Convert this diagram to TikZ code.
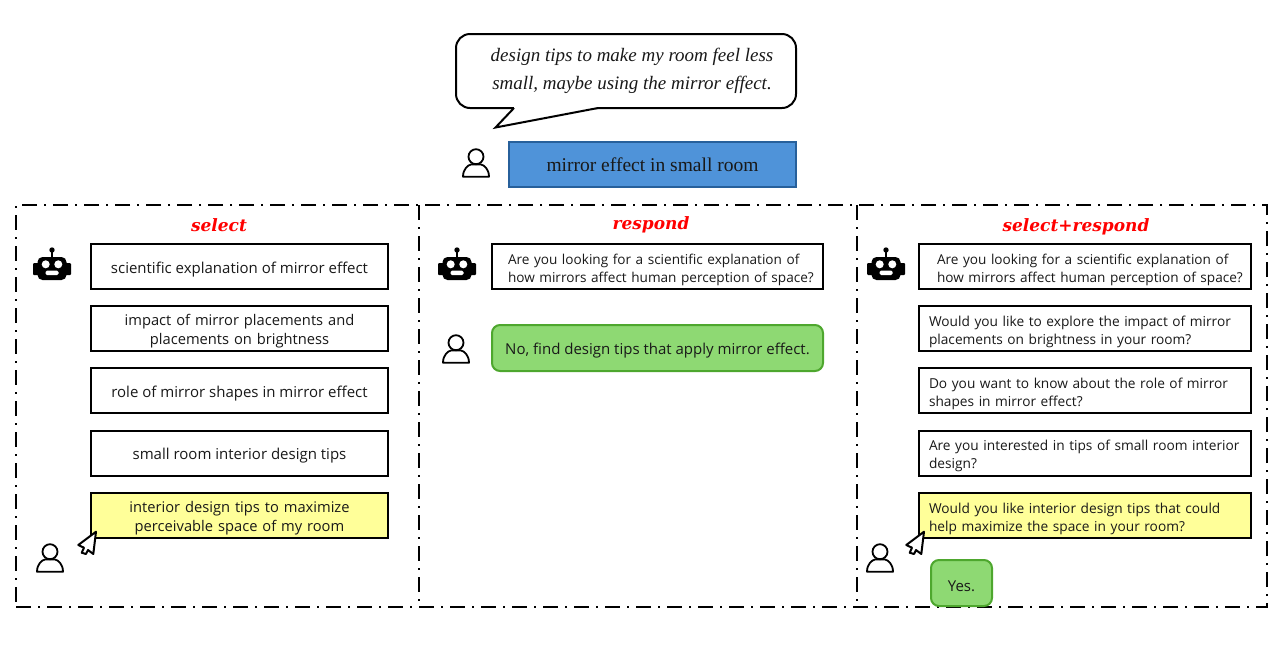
\documentclass[tikz,border=0pt]{standalone}
\usepackage{fontspec}
\setmainfont{Open Sans}
\newfontfamily\serifface{Liberation Serif}
\newfontfamily\headface{DejaVu Serif}
\usetikzlibrary{positioning}

\definecolor{boxblue}{HTML}{4F93D9}
\definecolor{boxblueline}{HTML}{27609B}
\definecolor{replygreen}{HTML}{8ED973}
\definecolor{replyline}{HTML}{4EA72E}
\definecolor{pickyellow}{HTML}{FFFF99}

\tikzset{
  pics/personicon/.style={code={
    \draw[line width=1.8pt] (0,-6.3) circle (7.5);
    \draw[line width=1.8pt, line join=round] (-13,13.7) .. controls (-13,6) and (-8,2) .. (-5,1.5) -- (5,1.5) .. controls (8,2) and (13,6) .. (13,13.7) -- cycle;
  }},
  pics/roboticon/.style={code={
    \fill[rounded corners=5pt] (-14.5,-8) rectangle (14.5,15);
    \fill[rounded corners=1pt] (-19,-2) rectangle (-13,10);
    \fill[rounded corners=1pt] (13,-2) rectangle (19,10);
    \fill (-1,-15) rectangle (1,-8);
    \fill (0,-15) circle (2.7);
    \fill[white] (-6.3,-0.7) circle (4);
    \fill[white] (6.3,-0.7) circle (4);
    \fill[white, rounded corners=1.5pt] (-6.5,5.5) rectangle (6.5,10);
  }},
  pics/cursoricon/.style={code={
    \draw[line width=2pt, fill=white, line join=round] (8,-11.3) -- (-9.7,2) -- (-4,4.7) -- (-6.3,9.7) -- (-2,11) -- (0,7) -- (5.3,11) -- cycle;
  }},
}

\begin{document}
\begin{tikzpicture}[
    x=1pt, y=-1pt,
    every node/.style={inner sep=0pt, font=\fontsize{15}{19}\selectfont, align=center, text=black!90},
    plainbox/.style={rectangle, draw=black, line width=2pt, fill=white, minimum height=45pt, text height=17pt},
    leftbox/.style={plainbox, minimum width=297pt},
    twolines/.style={text width=280pt, font=\fontsize{14.7}{19}\selectfont},
    wordbox/.style={plainbox, minimum width=332pt, text width=312pt, align=left, font=\fontsize{13.7}{18}\selectfont},
    longbox/.style={wordbox, text width=326pt, font=\fontsize{13.6}{18}\selectfont},
    pickbox/.style={fill=pickyellow},
    replybox/.style={rectangle, rounded corners=8pt, draw=replyline, line width=2pt, fill=replygreen, minimum height=46pt, text height=17pt},
    panelline/.style={draw=black, line width=2pt, dash pattern=on 15pt off 7pt on 2pt off 7pt},
    panelhead/.style={anchor=base, font=\headface\fontsize{17}{21}\selectfont\bfseries\itshape, text=red},
  ]

  \useasboundingbox (0,0) rectangle (1280,649);

  % query on top
  \node[rectangle, rounded corners=14pt, draw=black, line width=2pt, fill=white, minimum width=340pt, minimum height=74pt] (talk) at (626,71) {};
  \coordinate (talktip) at (495.5,127.5);
  \coordinate (talkleft) at (514,108);
  \coordinate (talkright) at (598,108);
  \draw[white, line width=2.4pt] (talkleft) -- (talkright);
  \draw[line width=2pt, fill=white, line join=miter] (talkleft) -- (talktip) -- (talkright);
  \node[font=\serifface\fontsize{19}{28}\selectfont\itshape] (talktext) at (632,71) {design tips to make my room feel less\\ small, maybe using the mirror effect.};
  \node[rectangle, draw=boxblueline, line width=2pt, fill=boxblue, minimum width=287pt, minimum height=45pt, font=\serifface\fontsize{19.5}{22}\selectfont] (query) at (652.5,164.5) {mirror effect in small room};
  \pic at (476,163) {personicon};

  % three panels
  \node[rectangle, panelline, minimum width=1251pt, minimum height=402pt] (panels) at (641.5,406) {};
  \coordinate (selecttop) at (419,205);
  \coordinate (selectend) at (419,607);
  \coordinate (respondtop) at (857,205);
  \coordinate (respondend) at (857,607);
  \draw[panelline] (selecttop) -- (selectend);
  \draw[panelline] (respondtop) -- (respondend);
  \node[panelhead] (selecthead) at (219,231) {select};
  \node[panelhead] (respondhead) at (651,229) {respond};
  \node[panelhead] (bothhead) at (1076,231) {select+respond};

  % select
  \node[leftbox] (l1) at (239.5,266.5) {scientific explanation of mirror effect};
  \node[leftbox, twolines] (l2) at (239.5,328.5) {impact of mirror placements and\\ placements on brightness};
  \node[leftbox] (l3) at (239.5,390.5) {role of mirror shapes in mirror effect};
  \node[leftbox] (l4) at (239.5,453) {small room interior design tips};
  \node[leftbox, twolines, pickbox] (l5) at (239.5,515.5) {interior design tips to maximize\\ perceivable space of my room};
  \pic at (52,265) {roboticon};
  \pic at (50,558) {personicon};
  \pic at (88,543) {cursoricon};

  % respond
  \node[longbox, minimum width=331pt] (m1) at (657.5,266.5) {\hspace*{13.5pt}Are you looking for a scientific explanation of\\ \hspace*{13.5pt}how mirrors affect human perception of space?};
  \node[replybox, minimum width=331pt] (m2) at (657.5,348) {No, find design tips that apply mirror effect.};
  \pic at (457,265) {roboticon};
  \pic at (456,349) {personicon};

  % select+respond
  \node[longbox] (r1) at (1085,266.5) {\hspace*{15pt}Are you looking for a scientific explanation of\\ \hspace*{15pt}how mirrors affect human perception of space?};
  \node[wordbox] (r2) at (1085,328.5) {Would you like to explore the impact of mirror\\ placements on brightness in your room?};
  \node[wordbox] (r3) at (1085,390.5) {Do you want to know about the role of mirror\\ shapes in mirror effect?};
  \node[wordbox] (r4) at (1085,453) {Are you interested in tips of small room interior\\ design?};
  \node[wordbox, pickbox] (r5) at (1085,515.5) {Would you like interior design tips that could\\ help maximize the space in your room?};
  \node[replybox, minimum width=61pt] (r6) at (961.5,583) {Yes.};
  \pic at (886,265) {roboticon};
  \pic at (880,558) {personicon};
  \pic at (916,543) {cursoricon};

\end{tikzpicture}
\end{document}
